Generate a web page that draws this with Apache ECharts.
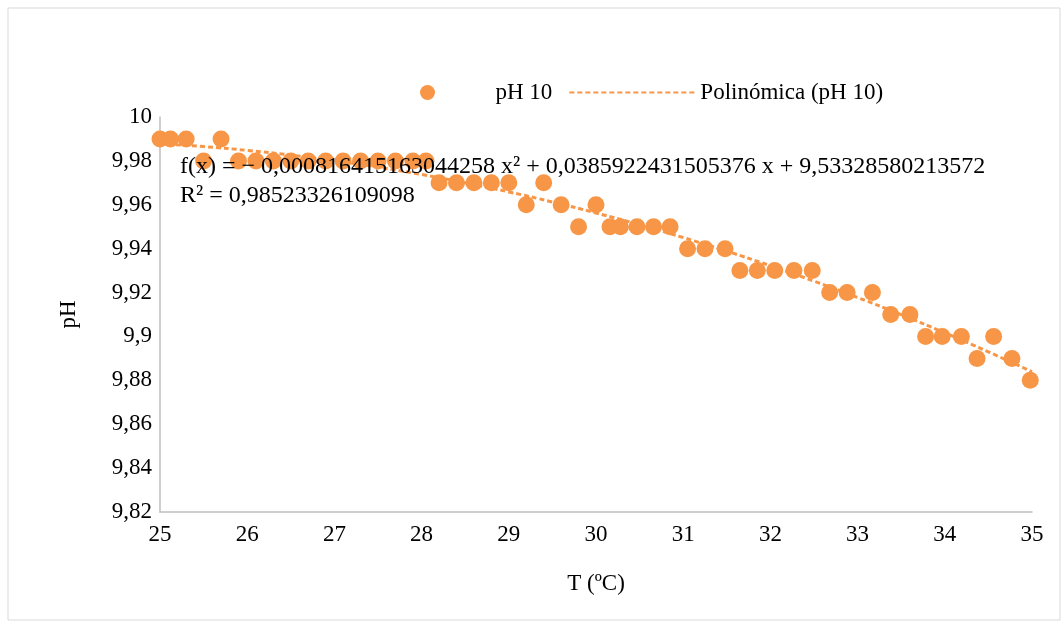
<!DOCTYPE html>
<html>
<head>
<meta charset="utf-8">
<script src="https://cdn.jsdelivr.net/npm/echarts@6/dist/echarts.min.js"></script>
<style>
html,body{margin:0;padding:0;background:#fff;}
#chart{width:1063px;height:626px;}
</style>
</head>
<body>
<div id="chart"></div>
<script>
// Data
const temperatures = [25.0, 25.12, 25.3, 25.5, 25.7, 25.9, 26.1, 26.3, 26.5, 26.7, 26.9, 27.1, 27.3, 27.5, 27.7, 27.9, 28.05,
  28.2, 28.4, 28.6, 28.8, 29.0, 29.2, 29.4, 29.6, 29.8, 30.0, 30.16, 30.28, 30.47, 30.66, 30.85,
  31.05, 31.25, 31.48, 31.65, 31.85, 32.05, 32.27, 32.48, 32.68, 32.88, 33.17, 33.38, 33.6,
  33.78, 33.97, 34.19, 34.37, 34.56, 34.77, 34.98];
const phValues = [9.99, 9.99, 9.99, 9.98, 9.99, 9.98, 9.98, 9.98, 9.98, 9.98, 9.98, 9.98, 9.98, 9.98, 9.98, 9.98, 9.98,
  9.97, 9.97, 9.97, 9.97, 9.97, 9.96, 9.97, 9.96, 9.95, 9.96, 9.95, 9.95, 9.95, 9.95, 9.95,
  9.94, 9.94, 9.94, 9.93, 9.93, 9.93, 9.93, 9.93, 9.92, 9.92, 9.92, 9.91, 9.91,
  9.90, 9.90, 9.90, 9.89, 9.90, 9.89, 9.88];
// Trendline coefficients shown in the chart
const trendA = -0.000816415163044258;
const trendB = 0.0385922431505376;
const trendC = 9.53328580213572;
const trendXs = [25, 25.5, 26, 26.5, 27, 27.5, 28, 28.5, 29, 29.5, 30, 30.5, 31, 31.5, 32, 32.5, 33, 33.5, 34, 34.5, 35];
const equationText = 'f(x) = − 0,000816415163044258 x² + 0,0385922431505376 x + 9,53328580213572';
const r2Text = 'R² = 0,98523326109098';
const seriesName = 'pH 10';
const trendName = 'Polinómica (pH 10)';

const orange = '#F79646';
const font = 'Liberation Serif';

const scatterData = temperatures.map((t, i) => [t, phValues[i]]);
const trendData = trendXs.map(x => [x, trendA * x * x + trendB * x + trendC]);

const chart = echarts.init(document.getElementById('chart'));
chart.setOption({
  animation: false,
  backgroundColor: '#fff',
  textStyle: { fontFamily: font },
  grid: { left: 160, right: 31, top: 117, bottom: 114, containLabel: false },
  legend: {
    left: 415, top: 76,
    itemWidth: 126, itemHeight: 15, itemGap: 16,
    textStyle: { fontFamily: font, fontSize: 23, color: '#000' },
    data: [
      { name: seriesName, icon: 'circle' },
      { name: trendName, itemStyle: { opacity: 0 } }
    ]
  },
  xAxis: {
    type: 'value', min: 25, max: 35, interval: 1,
    name: 'T (ºC)', nameLocation: 'middle', nameGap: 60,
    nameTextStyle: { fontFamily: font, fontSize: 23, color: '#000' },
    axisLine: { show: true, lineStyle: { color: '#BFBFBF', width: 1.5 } },
    axisTick: { show: false },
    splitLine: { show: false },
    axisLabel: { fontFamily: font, fontSize: 23, color: '#000', margin: 11 }
  },
  yAxis: {
    type: 'value', min: 9.82, max: 10, interval: 0.02,
    name: 'pH', nameLocation: 'middle', nameGap: 80, nameRotate: 90,
    nameTextStyle: { fontFamily: font, fontSize: 23, color: '#000' },
    axisLine: { show: true, lineStyle: { color: '#BFBFBF', width: 1.5 } },
    axisTick: { show: false },
    splitLine: { show: false },
    axisLabel: {
      fontFamily: font, fontSize: 23, color: '#000', margin: 8,
      formatter: v => String(Number(v.toFixed(2))).replace('.', ',')
    }
  },
  series: [
    {
      name: trendName, type: 'line', data: trendData, smooth: true,
      showSymbol: false, symbol: 'none', z: 1,
      lineStyle: { color: orange, width: 3, type: [5, 3] },
      itemStyle: { color: orange }
    },
    {
      name: seriesName, type: 'scatter', data: scatterData, symbol: 'circle', symbolSize: 17, z: 2,
      itemStyle: { color: orange, opacity: 1 }
    }
  ],
  graphic: [
    { type: 'rect', shape: { x: 8, y: 8, width: 1052, height: 612 }, style: { fill: 'none', stroke: '#D9D9D9', lineWidth: 1 }, silent: true },
    { type: 'text', left: 180, top: 155, z: 10, style: { text: equationText, font: '24px "Liberation Serif"', fill: '#000' } },
    { type: 'text', left: 180, top: 184, z: 10, style: { text: r2Text, font: '24px "Liberation Serif"', fill: '#000' } }
  ]
});
</script>
</body>
</html>
